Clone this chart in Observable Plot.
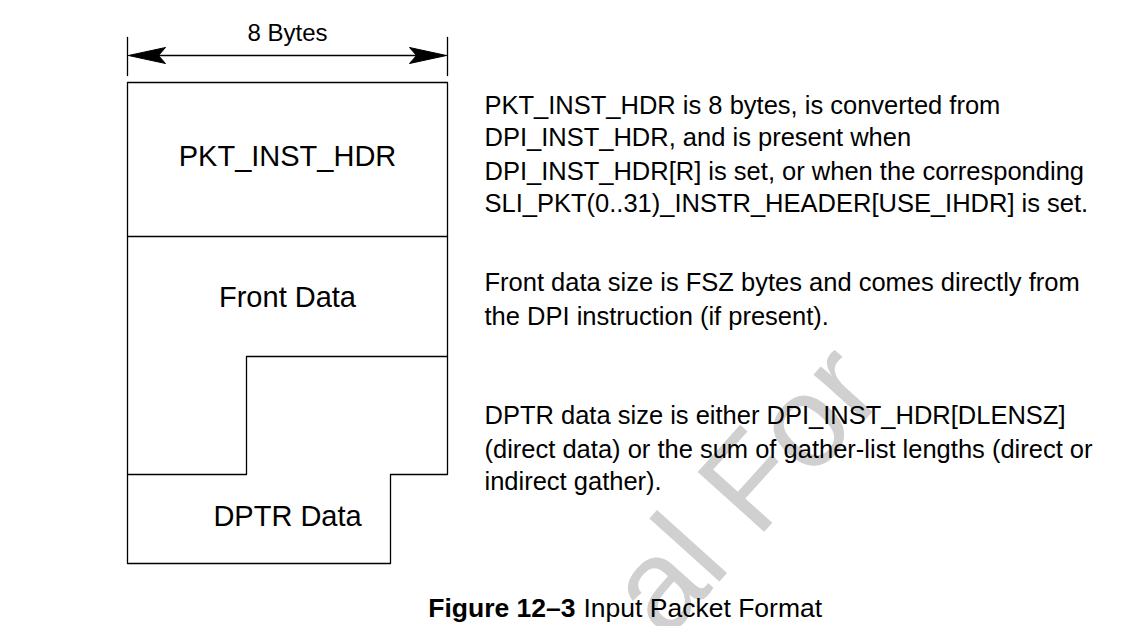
<!DOCTYPE html>
<html><head><meta charset="utf-8">
<script src="https://cdn.jsdelivr.net/npm/d3@7"></script>
<script src="https://cdn.jsdelivr.net/npm/@observablehq/plot@0.6"></script>
<style>body{margin:0;background:#fff}</style>
</head><body><div id="chart"></div>
<script>
// outline of the packet boxes, one polyline per id
var outline = [
  {id: "outer", pts: [[127,82],[447,82],[447,474],[390,474],[390,563],[127,563],[127,82]]},
  {id: "hdr", pts: [[127,236],[447,236]]},
  {id: "front", pts: [[447,356],[246,356],[246,474],[127,474]]},
  {id: "tickL", pts: [[127,37],[127,75]]},
  {id: "tickR", pts: [[447,37],[447,75]]},
  {id: "shaft", pts: [[150,55],[424,55]]}
]
var heads = [
  {id: "hl", pts: [[128,55],[165,47],[158,55],[165,63],[128,55]]},
  {id: "hr", pts: [[446,55],[409,47],[416,55],[409,63],[446,55]]}
]
var boxLabels = [
  {t: "8 Bytes", x: 287, y: 33, s: 24},
  {t: "PKT_INST_HDR", x: 287, y: 156, s: 29},
  {t: "Front Data", x: 287, y: 297, s: 29},
  {t: "DPTR Data", x: 287, y: 516, s: 29}
]
var notes = [
  {t: "PKT_INST_HDR is 8 bytes, is converted from", y: 105},
  {t: "DPI_INST_HDR, and is present when", y: 137},
  {t: "DPI_INST_HDR[R] is set, or when the corresponding", y: 171},
  {t: "SLI_PKT(0..31)_INSTR_HEADER[USE_IHDR] is set.", y: 203},
  {t: "Front data size is FSZ bytes and comes directly from", y: 282},
  {t: "the DPI instruction (if present).", y: 316},
  {t: "DPTR data size is either DPI_INST_HDR[DLENSZ]", y: 415},
  {t: "(direct data) or the sum of gather-list lengths (direct or", y: 449},
  {t: "indirect gather).", y: 481}
]
var flat = a => a.flatMap(d => d.pts.map(p => ({id: d.id, x: p[0], y: p[1]})))

var chart = Plot.plot({
  width: 1138, height: 626,
  margin: 0,
  x: {domain: [0,1138], range: [0,1138], axis: null},
  y: {domain: [0,626], range: [0,626], axis: null},
  style: {fontFamily: "'Liberation Sans', Arial, sans-serif"},
  marks: [
    Plot.text(["al For"], {x: [745], y: [490], text: d => d, rotate: -48, fontSize: 130, fill: "#d0d0d0"}),
    Plot.line(flat(outline), {x: "x", y: "y", z: "id", stroke: "black", strokeWidth: 1.3}),
    Plot.line(flat(heads), {x: "x", y: "y", z: "id", stroke: "black", fill: "black", strokeWidth: 1}),
    Plot.text(boxLabels, {x: "x", y: "y", text: "t", fontSize: d => d.s, fill: "black"}),
    Plot.text(notes, {x: 484, y: "y", text: "t", textAnchor: "start", fontSize: 25.5, fill: "black"}),
    Plot.text(["Figure 12–3"], {x: 575, y: 608, text: d => d, textAnchor: "end", fontSize: 26.5, fontWeight: "bold", fill: "black"}),
    Plot.text(["Input Packet Format"], {x: 583, y: 608, text: d => d, textAnchor: "start", fontSize: 26.5, fill: "black"})
  ]
})
d3.select('#chart').append(() => chart)
</script></body></html>
